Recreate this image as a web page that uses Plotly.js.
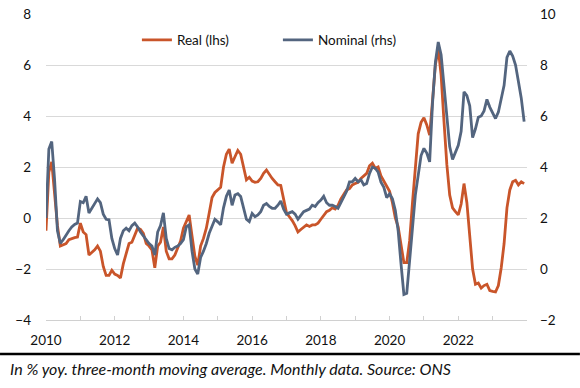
<!DOCTYPE html>
<html>
<head>
<meta charset="utf-8">
<script src="https://cdn.plot.ly/plotly-3.0.1.min.js"></script>
<style>
  html, body { margin: 0; padding: 0; background: #fff; }
  #chart { width: 580px; height: 388px; }
</style>
</head>
<body>
<div id="chart"></div>
<script>
// Monthly data, Jan 2010 - Dec 2023, % yoy, 3m moving average
const startYear = 2010;
const seriesNames = ["Real (lhs)", "Nominal (rhs)"];
const real = [
  -0.5, 1.8, 2.2, 1.0, -0.3, -1.1, -1.05, -1.0, -0.85, -0.8, -0.77, -0.75,
  -0.2, -0.55, -0.65, -1.45, -1.35, -1.25, -1.1, -1.3, -1.9, -2.25, -2.25, -2.05,
  -2.2, -2.25, -2.35, -1.8, -1.4, -1.0, -0.95, -0.7, -0.4, -0.45, -0.6, -1.0,
  -1.1, -1.25, -1.95, -1.1, -0.95, -0.35, -1.3, -1.6, -1.6, -1.45, -1.2, -0.9,
  -0.4, -0.1, 0.12, -0.7, -1.5, -1.85, -1.1, -0.8, -0.4, 0.2, 0.8, 1.0,
  1.1, 1.2, 2.0, 2.5, 2.7, 2.15, 2.4, 2.65, 2.5, 1.95, 1.5, 1.6,
  1.45, 1.4, 1.42, 1.55, 1.75, 1.88, 1.7, 1.55, 1.42, 1.3, 1.28, 0.7,
  0.2, 0.05, -0.1, -0.3, -0.55, -0.45, -0.35, -0.27, -0.33, -0.27, -0.27, -0.2,
  -0.05, 0.1, 0.25, 0.3, 0.4, 0.35, 0.5, 0.75, 0.95, 1.1, 1.15, 1.3,
  1.35, 1.4, 1.55, 1.65, 1.75, 2.05, 2.15, 1.95, 2.0, 1.65, 1.45, 1.2,
  1.05, 0.6, 0.0, -0.35, -1.1, -1.75, -1.75, -0.9, 0.6, 2.0, 3.3, 3.75,
  3.93, 3.65, 3.25, 4.6, 6.0, 6.65, 5.6, 3.8, 2.1, 0.9, 0.4, 0.25,
  0.12, 0.55, 1.35, 0.6, -0.6, -2.0, -2.6, -2.55, -2.75, -2.65, -2.6, -2.85,
  -2.88, -2.9, -2.65, -1.95, -1.0, 0.4, 1.1, 1.42, 1.48, 1.3, 1.42, 1.35
];
const nominal = [
  2.0, 4.7, 5.0, 3.5, 1.5, 1.0, 1.15, 1.35, 1.5, 1.65, 1.75, 1.8,
  2.65, 2.6, 2.85, 2.2, 2.4, 2.55, 2.75, 2.6, 2.15, 1.95, 1.93, 1.2,
  0.8, 0.55, 1.2, 1.5, 1.6, 1.5, 1.7, 1.8, 1.65, 1.45, 1.3, 1.15,
  1.0, 0.9, 0.55, 1.45, 1.7, 2.2, 1.2, 0.8, 0.75, 0.85, 0.9, 1.0,
  1.15, 1.65, 1.73, 0.7, 0.0, -0.2, 0.45, 0.7, 1.0, 1.4, 1.7, 1.95,
  1.85, 1.73, 2.4, 2.85, 3.1, 2.5, 2.9, 2.95, 2.84, 2.4, 1.95, 1.86,
  2.18, 2.05, 2.12, 2.25, 2.5, 2.57, 2.45, 2.38, 2.38, 2.5, 2.67, 2.35,
  2.15, 2.2, 2.25, 2.15, 1.95, 2.1, 2.25, 2.3, 2.35, 2.5, 2.45, 2.6,
  2.7, 2.85, 2.6, 2.5, 2.5, 2.45, 2.38, 2.6, 2.85, 3.05, 3.42, 3.42,
  3.55, 3.42, 3.5, 3.3, 3.35, 3.75, 4.0, 3.95, 3.8, 3.4, 3.2, 2.8,
  2.95, 2.75, 2.3, 1.5, 0.2, -1.0, -0.95, 0.2, 1.6, 2.9, 3.7, 4.45,
  4.73, 4.55, 4.2, 6.5, 8.1, 8.9, 8.4, 7.1, 5.8, 4.8, 4.3, 4.55,
  4.85, 5.4, 6.95, 6.8, 6.4, 5.15, 5.5, 5.95, 6.0, 6.2, 6.65, 6.35,
  6.1, 5.9, 6.15, 6.65, 7.2, 8.3, 8.55, 8.35, 8.0, 7.35, 6.7, 5.78
];
const xTickVals = [2010, 2012, 2014, 2016, 2018, 2020, 2022];
const xTickText = ["2010", "2012", "2014", "2016", "2018", "2020", "2022"];
const leftTicks = [-4, -2, 0, 2, 4, 6, 8];
const rightTicks = [-2, 0, 2, 4, 6, 8, 10];
const caption = "In % yoy. three-month moving average. Monthly data. Source: ONS";

const xs = real.map((_, i) => startYear + i / 12);

const traces = [
  { x: xs, y: real, name: seriesNames[0], type: "scatter", mode: "lines",
    line: { color: "#C9552A", width: 2.8 }, yaxis: "y" },
  { x: xs, y: nominal, name: seriesNames[1], type: "scatter", mode: "lines",
    line: { color: "#53657F", width: 2.8 }, yaxis: "y2" }
];

const tickFont = { family: "Lato, 'Open Sans', sans-serif", size: 13.5, color: "#111" };

const layout = {
  width: 580, height: 388,
  margin: { l: 46, r: 53, t: 14, b: 68, pad: 0 },
  paper_bgcolor: "#fff", plot_bgcolor: "#fff",
  showlegend: true,
  legend: {
    orientation: "h", x: 0.189, xanchor: "left", y: 0.915, yanchor: "middle",
    font: { family: "Lato, 'Open Sans', sans-serif", size: 13.5, color: "#111" },
    bgcolor: "rgba(0,0,0,0)", entrywidth: 96, entrywidthmode: "pixels",
    itemwidth: 30, tracegroupgap: 0
  },
  xaxis: {
    range: [2010, 2024], tickvals: xTickVals, ticktext: xTickText,
    ticks: "inside", ticklen: 4, tickcolor: "#d0d0d0", tickwidth: 1,
    minor: { dtick: 1, tick0: 2010, ticks: "inside", ticklen: 4, tickcolor: "#d0d0d0", showgrid: false },
    showline: true, linecolor: "#d0d0d0", linewidth: 1,
    showgrid: false, zeroline: false, tickfont: tickFont, ticklabelstandoff: 8
  },
  yaxis: {
    range: [-4, 8], tickvals: leftTicks, ticks: "", showline: false,
    showgrid: true, gridcolor: "#d9d9d9", gridwidth: 1, zeroline: false,
    tickfont: tickFont, ticklabelstandoff: 14
  },
  yaxis2: {
    range: [-2, 10], tickvals: rightTicks, overlaying: "y", side: "right",
    ticks: "", showline: false, showgrid: false, zeroline: false,
    tickfont: tickFont, ticklabelstandoff: 12
  },
  shapes: [
    { type: "line", xref: "paper", yref: "paper",
      x0: -0.0956, x1: 1.11, y0: -0.111, y1: -0.111,
      line: { color: "#000", width: 2.5 } }
  ],
  annotations: [
    { text: caption, xref: "paper", yref: "paper", x: -0.079, y: -0.157,
      xanchor: "left", yanchor: "middle", showarrow: false,
      font: { family: "Lato, 'Open Sans', sans-serif", size: 16, color: "#111", style: "italic" } }
  ]
};

Plotly.newPlot("chart", traces, layout, { staticPlot: true, displayModeBar: false });
</script>
</body>
</html>
